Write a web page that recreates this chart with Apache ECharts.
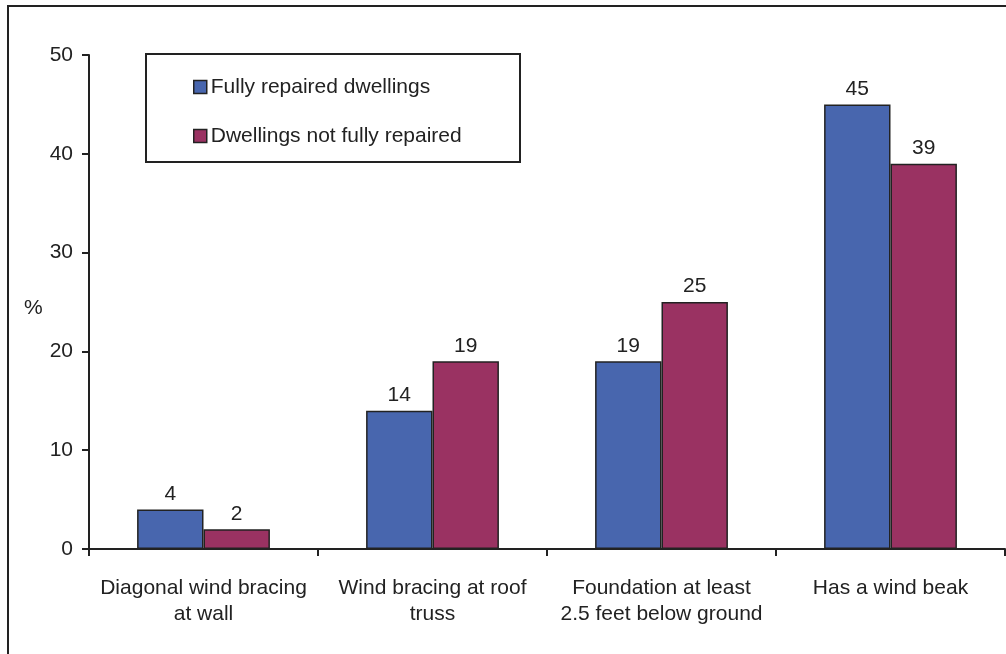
<!DOCTYPE html>
<html><head><meta charset="utf-8">
<script src="https://cdn.jsdelivr.net/npm/echarts@6/dist/echarts.min.js"></script>
<style>html,body{margin:0;padding:0;background:#fff}#c{width:1006px;height:654px}</style>
</head><body><div id="c"></div>
<script>
const categories = ['Diagonal wind bracing\nat wall', 'Wind bracing at roof\ntruss', 'Foundation at least\n2.5 feet below ground', 'Has a wind beak'];
const fullyRepaired = [4, 14, 19, 45];
const notFullyRepaired = [2, 19, 25, 39];
const seriesNames = ['Fully repaired dwellings', 'Dwellings not fully repaired'];
const yTicks = [0, 10, 20, 30, 40, 50];

const font = 'Liberation Sans, Arial, sans-serif';
const FS = 21;
const chart = echarts.init(document.getElementById('c'));
const barStyle = c => ({color: c, borderColor: '#222', borderWidth: 1.5});
const lbl = {show: true, position: 'top', distance: 5, color: '#222', fontSize: FS, fontFamily: font};
chart.setOption({
  animation: false,
  grid: {left: 89, right: 1, top: 55, bottom: 105},
  graphic: [
    {type: 'rect', shape: {x: 8, y: 6, width: 1010, height: 660}, style: {fill: 'none', stroke: '#222', lineWidth: 2}, silent: true, z: -1},
    {type: 'rect', shape: {x: 146, y: 54, width: 374, height: 108}, style: {fill: '#fff', stroke: '#222', lineWidth: 2}, z: 5},
    {type: 'text', left: 24, top: 298, style: {text: '%', fontSize: FS, fontFamily: font, fill: '#222'}}
  ],
  legend: {
    orient: 'vertical', left: 188, top: 70, itemWidth: 13, itemHeight: 13, itemGap: 25,
    z: 10, icon: 'rect',
    textStyle: {fontSize: FS, fontFamily: font, color: '#222', lineHeight: 24, padding: [0, 0, 0, -1]},
    data: seriesNames.map(n => ({name: n, itemStyle: {borderColor: '#222', borderWidth: 1.5}}))
  },
  xAxis: {
    type: 'category', data: categories,
    axisLine: {lineStyle: {color: '#222', width: 2}},
    axisTick: {show: true, length: 7, lineStyle: {color: '#222', width: 2}},
    axisLabel: {fontSize: FS, fontFamily: font, color: '#222', lineHeight: 26, margin: 26, interval: 0}
  },
  yAxis: {
    type: 'value', min: 0, max: 50, interval: 10,
    axisLine: {show: true, lineStyle: {color: '#222', width: 2}},
    axisTick: {show: true, length: 7, lineStyle: {color: '#222', width: 2}},
    splitLine: {show: false},
    axisLabel: {fontSize: FS, fontFamily: font, color: '#222', margin: 16,
      formatter: v => yTicks.includes(v) ? String(v) : ''}
  },
  series: [
    {name: seriesNames[0], type: 'bar', data: fullyRepaired, barGap: '0%', barCategoryGap: '42%', itemStyle: barStyle('#4866AE'), label: lbl},
    {name: seriesNames[1], type: 'bar', data: notFullyRepaired, itemStyle: barStyle('#9A3262'), label: lbl}
  ]
});
</script></body></html>
